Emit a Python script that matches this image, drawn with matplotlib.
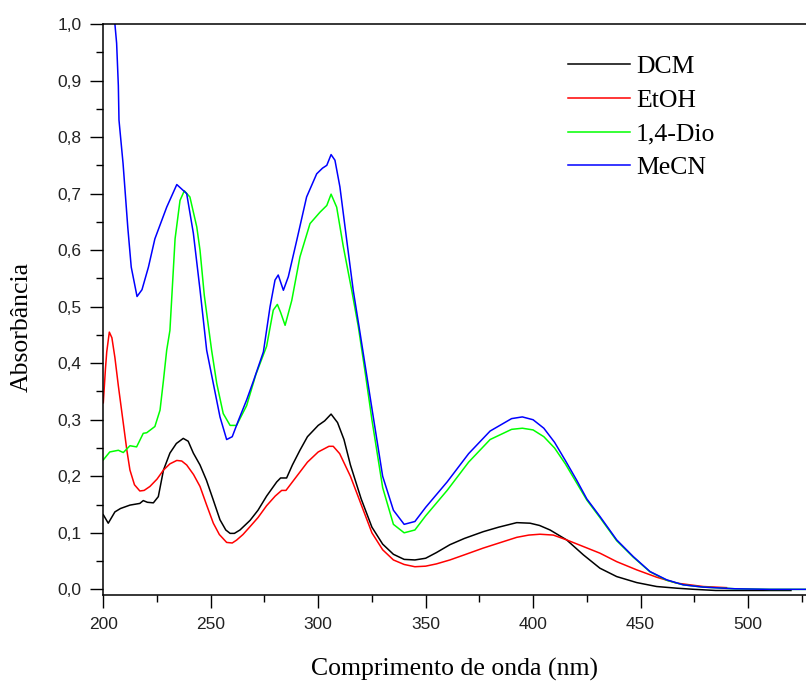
import matplotlib.pyplot as plt
from matplotlib.ticker import MultipleLocator, FuncFormatter

# UV-Vis spectra in four solvents
wl_dcm = [200, 202.3, 205.4, 208, 212.4, 217, 218.6, 220.5, 223.3, 225.6, 228, 231, 234, 237.2,
          239.5, 241.9, 245, 248, 251, 254.3, 257, 259, 261, 263.6, 268.3, 272, 276, 280.7, 282.5,
          285.3, 288, 291.5, 295, 300, 303, 306, 309, 312, 315, 320, 325, 330, 335, 340, 345, 350,
          355, 361.3, 368, 376.8, 384, 392.4, 398.6, 403, 407.9, 415.6, 423.4, 431.1, 438.9, 448.2,
          457.5, 467, 475, 485, 500, 510, 520]
abs_dcm = [0.132, 0.117, 0.137, 0.143, 0.149, 0.152, 0.157, 0.154, 0.153, 0.164, 0.211, 0.241, 0.258,
           0.267, 0.262, 0.241, 0.22, 0.193, 0.16, 0.123, 0.105, 0.099, 0.099, 0.105, 0.122, 0.14,
           0.165, 0.19, 0.197, 0.197, 0.22, 0.246, 0.27, 0.29, 0.298, 0.31, 0.295, 0.265, 0.22, 0.16,
           0.11, 0.08, 0.062, 0.053, 0.052, 0.055, 0.065, 0.079, 0.09, 0.102, 0.11, 0.118, 0.117,
           0.113, 0.105, 0.0875, 0.061, 0.0374, 0.0226, 0.012, 0.005, 0.002, 0.0, -0.002, -0.002,
           -0.002, -0.002]

wl_etoh = [200, 201, 201.6, 202.8, 204, 205.4, 207, 209.3, 211, 212.4, 214.5, 217, 219, 221.7, 225,
           228, 231, 234.2, 236.5, 238.8, 242, 245, 248, 251.2, 254, 257.4, 260, 262, 265, 268.3,
           272, 276, 280, 283, 285, 288, 290, 295, 300, 305, 307, 310, 315, 320, 325, 330, 335, 340,
           345, 350, 355, 361.3, 368, 376.8, 385, 392.4, 398, 403.2, 409.4, 415.6, 423.4, 431.1,
           438.9, 448.2, 457.5, 466.8, 479.2, 490]
abs_etoh = [0.33, 0.39, 0.42, 0.455, 0.445, 0.41, 0.36, 0.294, 0.245, 0.211, 0.185, 0.174, 0.175,
            0.182, 0.195, 0.211, 0.222, 0.228, 0.227, 0.22, 0.203, 0.182, 0.15, 0.117, 0.097, 0.083,
            0.082, 0.087, 0.097, 0.111, 0.127, 0.148, 0.165, 0.175, 0.175, 0.19, 0.2, 0.225, 0.243,
            0.253, 0.253, 0.24, 0.2, 0.15, 0.1, 0.07, 0.052, 0.044, 0.04, 0.041, 0.045, 0.052, 0.061,
            0.073, 0.083, 0.092, 0.096, 0.0975, 0.096, 0.0875, 0.0757, 0.064, 0.049, 0.0345, 0.0215,
            0.011, 0.005, 0.003]

wl_dio = [200, 203, 207, 209.3, 212.4, 215.5, 218.6, 220.2, 224, 226.4, 228, 229.5, 231, 233.4,
          235.7, 237.7, 240.3, 243.5, 245, 247, 250.4, 252.8, 255.8, 259, 262, 266.7, 271, 276,
          279.1, 281, 282.5, 284.6, 287.7, 291.5, 296.2, 300.8, 304, 306, 308.6, 311.7, 315.6, 318.7,
          322, 325, 330, 335, 340, 345, 350, 360, 370, 380, 390, 395, 400, 405, 410, 415, 420, 425,
          431.1, 438.9, 446.6, 454.4, 462.2, 469.9, 479, 494, 510, 527]
abs_dio = [0.229, 0.243, 0.246, 0.242, 0.254, 0.252, 0.276, 0.277, 0.288, 0.317, 0.37, 0.423, 0.458,
           0.62, 0.688, 0.705, 0.694, 0.641, 0.6, 0.52, 0.423, 0.364, 0.311, 0.29, 0.29, 0.325, 0.38,
           0.43, 0.494, 0.504, 0.49, 0.467, 0.511, 0.588, 0.647, 0.667, 0.679, 0.699, 0.676, 0.606,
           0.529, 0.464, 0.38, 0.3, 0.18, 0.115, 0.1, 0.105, 0.13, 0.175, 0.225, 0.265, 0.283, 0.285,
           0.282, 0.27, 0.25, 0.222, 0.19, 0.158, 0.127, 0.086, 0.057, 0.031, 0.016, 0.008, 0.004,
           0.001, 0.0, 0.0]

wl_mecn = [205, 205.4, 206.2, 207, 207.3, 209.2, 211.4, 213, 215.7, 218, 221, 224, 229.5, 234.2,
           238.8, 241.9, 245, 248.1, 251.2, 254.3, 257.4, 260, 263, 266.7, 270, 274.5, 277.6, 279.9,
           281.4, 283.8, 286.1, 290, 294.6, 299.3, 302, 304, 306, 307.8, 310.1, 313.3, 316.3, 319.5,
           325, 330, 335, 340, 345, 350, 360, 370, 380, 390, 395, 400, 405, 410, 415, 420.3, 425,
           431.1, 438.9, 446.6, 454.4, 462.2, 469.9, 479, 494, 510, 527]
abs_mecn = [1.03, 1.0, 0.966, 0.891, 0.83, 0.753, 0.64, 0.57, 0.518, 0.53, 0.57, 0.62, 0.676, 0.716,
            0.7, 0.63, 0.53, 0.423, 0.364, 0.305, 0.265, 0.27, 0.3, 0.335, 0.37, 0.42, 0.5, 0.547,
            0.556, 0.529, 0.553, 0.617, 0.694, 0.735, 0.745, 0.75, 0.769, 0.759, 0.712, 0.617, 0.529,
            0.453, 0.32, 0.2, 0.14, 0.115, 0.12, 0.145, 0.19, 0.24, 0.28, 0.302, 0.305, 0.3, 0.285,
            0.26, 0.228, 0.193, 0.16, 0.129, 0.0875, 0.058, 0.0315, 0.0168, 0.008, 0.004, 0.001, 0.0,
            0.0]

series = [
    (wl_dcm, abs_dcm, "DCM", "#000000"),
    (wl_etoh, abs_etoh, "EtOH", "#FF0000"),
    (wl_dio, abs_dio, "1,4-Dio", "#00FF00"),
    (wl_mecn, abs_mecn, "MeCN", "#0000FF"),
]

fig = plt.figure(figsize=(8.06, 6.81), dpi=100)
ax = fig.add_axes([103.3 / 806, 86 / 681, 1 - 103.3 / 806, 571 / 681])

for x, y, label, color in series:
    ax.plot(x, y, color=color, lw=1.1, label=label)

ax.set_xlim(200, 527)
ax.set_ylim(-0.01, 1.0)
ax.xaxis.set_major_locator(MultipleLocator(50))
ax.xaxis.set_minor_locator(MultipleLocator(25))
ax.yaxis.set_major_locator(MultipleLocator(0.1))
ax.yaxis.set_minor_locator(MultipleLocator(0.05))
ax.yaxis.set_major_formatter(FuncFormatter(lambda v, p: f"{v:.1f}".replace(".", ",")))

ax.spines["right"].set_visible(False)
for s in ["left", "top", "bottom"]:
    ax.spines[s].set_linewidth(1.1)

ax.tick_params(which="major", direction="out", length=9.5, width=1.0,
               labelsize=12.5, labelcolor="#222222")
ax.tick_params(axis="y", which="major", pad=6)
ax.tick_params(axis="x", which="major", pad=6)
ax.tick_params(which="minor", direction="out", length=5, width=1.0)
for lbl in ax.get_xticklabels() + ax.get_yticklabels():
    lbl.set_family("Liberation Sans")

ax.set_xlabel("Comprimento de onda (nm)", family="Liberation Serif", fontsize=18.5)
ax.set_ylabel("Absorbância", family="Liberation Serif", fontsize=18.5)
ax.xaxis.set_label_coords(0.5, -0.11)
ax.yaxis.set_label_coords(-0.1, 0.469)

ax.legend(loc="upper left", bbox_to_anchor=(568 / 806, 1 - 55 / 681),
          bbox_transform=fig.transFigure, frameon=False,
          prop={"family": "Liberation Serif", "size": 18.5},
          handlelength=2.4, handletextpad=0.25, labelspacing=0.42, borderpad=0, borderaxespad=0)

fig.savefig("out.png", dpi=100)
